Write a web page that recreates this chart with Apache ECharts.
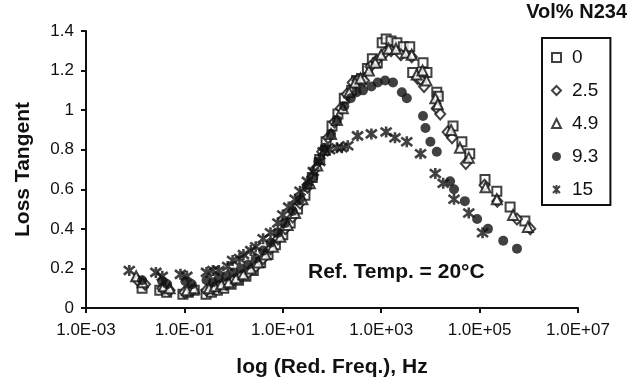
<!DOCTYPE html>
<html>
<head>
<meta charset="utf-8">
<script src="https://cdn.jsdelivr.net/npm/echarts@6/dist/echarts.min.js"></script>
<style>
  html, body { margin: 0; padding: 0; background: #fff; }
  #chart { width: 632px; height: 383px; }
</style>
</head>
<body>
<div id="chart"></div>
<script>
// Loss tangent master curves at 20 °C for N234 carbon-black loadings.
// x values are log10 of the reduced frequency (Hz).

const seriesNames = ['0', '2.5', '4.9', '9.3', '15'];
const xTickExponents = [-3, -1, 1, 3, 5, 7];

const logF_0 = [-1.86, -1.50, -1.36, -1.03, -0.92, -0.80, -0.56, -0.45, -0.33, -0.20, -0.05, 0.10, 0.25, 0.40, 0.55, 0.70, 0.85, 1.00, 1.15, 1.30, 1.45, 1.60, 1.75, 1.88, 2.00, 2.12, 2.25, 2.40, 2.50, 2.60, 2.72, 2.82, 2.92, 3.02, 3.10, 3.20, 3.32, 3.45, 3.58, 3.64, 3.85, 3.93, 4.13, 4.16, 4.46, 4.64, 4.80, 5.11, 5.35, 5.62, 5.92];
const tan_0  = [0.10, 0.09, 0.08, 0.07, 0.08, 0.09, 0.07, 0.08, 0.09, 0.10, 0.12, 0.14, 0.16, 0.19, 0.23, 0.27, 0.32, 0.37, 0.43, 0.50, 0.57, 0.66, 0.75, 0.84, 0.92, 0.98, 1.06, 1.10, 1.15, 1.16, 1.21, 1.26, 1.24, 1.34, 1.36, 1.35, 1.34, 1.32, 1.32, 1.19, 1.24, 1.19, 1.09, 1.07, 0.92, 0.84, 0.78, 0.65, 0.59, 0.51, 0.44];

const logF_25 = [-1.95, -1.80, -1.45, -1.30, -1.00, -0.85, -0.55, -0.42, -0.30, -0.15, 0.00, 0.15, 0.30, 0.45, 0.60, 0.75, 0.90, 1.05, 1.20, 1.35, 1.50, 1.65, 1.80, 1.92, 2.05, 2.18, 2.30, 2.42, 2.52, 2.65, 2.78, 2.90, 3.08, 3.20, 3.40, 3.62, 3.74, 3.82, 3.87, 4.13, 4.20, 4.35, 4.44, 4.72, 5.10, 5.36, 5.76, 6.03];
const tan_25  = [0.14, 0.12, 0.10, 0.09, 0.08, 0.09, 0.09, 0.10, 0.11, 0.12, 0.14, 0.16, 0.18, 0.21, 0.25, 0.30, 0.35, 0.40, 0.46, 0.53, 0.61, 0.70, 0.79, 0.86, 0.94, 1.01, 1.08, 1.14, 1.15, 1.15, 1.22, 1.25, 1.29, 1.30, 1.28, 1.27, 1.16, 1.15, 1.12, 1.01, 0.98, 0.89, 0.86, 0.73, 0.62, 0.54, 0.45, 0.40];

const logF_49 = [-1.98, -1.85, -1.42, -1.30, -0.95, -0.80, -0.50, -0.38, -0.25, -0.10, 0.05, 0.20, 0.35, 0.50, 0.65, 0.80, 0.95, 1.10, 1.25, 1.40, 1.55, 1.70, 1.85, 1.98, 2.10, 2.22, 2.35, 2.47, 2.58, 2.75, 2.88, 3.00, 3.15, 3.30, 3.50, 3.62, 3.72, 3.84, 3.92, 4.10, 4.15, 4.42, 4.60, 4.78, 5.12, 5.35, 5.68, 5.98];
const tan_49  = [0.16, 0.13, 0.11, 0.10, 0.09, 0.10, 0.10, 0.11, 0.12, 0.13, 0.15, 0.17, 0.20, 0.23, 0.27, 0.31, 0.36, 0.42, 0.48, 0.55, 0.63, 0.72, 0.80, 0.88, 0.95, 1.01, 1.09, 1.14, 1.16, 1.20, 1.24, 1.28, 1.31, 1.31, 1.29, 1.28, 1.18, 1.20, 1.15, 1.06, 1.03, 0.90, 0.81, 0.76, 0.61, 0.55, 0.47, 0.41];

const logF_93 = [-1.86, -1.45, -1.35, -0.98, -0.85, -0.55, -0.42, -0.30, -0.15, 0.00, 0.15, 0.30, 0.45, 0.60, 0.75, 0.90, 1.05, 1.20, 1.35, 1.50, 1.62, 1.72, 1.85, 1.98, 2.10, 2.25, 2.38, 2.50, 2.63, 2.80, 2.93, 3.08, 3.24, 3.42, 3.52, 3.85, 3.90, 4.00, 4.13, 4.40, 4.48, 4.70, 4.95, 5.17, 5.48, 5.76];
const tan_93  = [0.14, 0.135, 0.12, 0.135, 0.12, 0.14, 0.13, 0.15, 0.16, 0.18, 0.20, 0.22, 0.25, 0.29, 0.33, 0.38, 0.43, 0.49, 0.55, 0.62, 0.66, 0.74, 0.81, 0.88, 0.95, 1.02, 1.06, 1.09, 1.10, 1.12, 1.14, 1.15, 1.14, 1.09, 1.06, 0.97, 0.91, 0.84, 0.79, 0.64, 0.60, 0.54, 0.45, 0.40, 0.34, 0.30];

const logF_15 = [-2.12, -1.58, -1.45, -1.08, -0.95, -0.55, -0.42, -0.30, -0.12, -0.02, 0.12, 0.20, 0.35, 0.45, 0.60, 0.75, 0.90, 1.00, 1.12, 1.25, 1.35, 1.50, 1.62, 1.75, 1.82, 1.95, 2.10, 2.20, 2.32, 2.52, 2.80, 3.10, 3.28, 3.52, 3.80, 4.10, 4.26, 4.48, 4.78, 5.06];
const tan_15  = [0.19, 0.18, 0.16, 0.17, 0.16, 0.18, 0.19, 0.19, 0.21, 0.24, 0.25, 0.27, 0.29, 0.31, 0.35, 0.38, 0.43, 0.47, 0.51, 0.55, 0.59, 0.64, 0.69, 0.74, 0.79, 0.80, 0.81, 0.81, 0.82, 0.87, 0.88, 0.89, 0.86, 0.84, 0.78, 0.68, 0.63, 0.55, 0.48, 0.38];

const pairs = (xs, ys) => xs.map((x, i) => [x, ys[i]]);

const FONT = "'Liberation Sans', Arial, sans-serif";
const INK = '#111';

const hollow = { color: '#fff', borderColor: INK, borderWidth: 2 };
const STAR = 'path://M0,0L10,10M10,0L0,10M5,-1.5L5,11.5';

const markerDefs = [
  { data: pairs(logF_0, tan_0), symbol: 'rect', symbolSize: 9, itemStyle: hollow },
  { data: pairs(logF_25, tan_25), symbol: 'diamond', symbolSize: [10, 11], itemStyle: hollow },
  { data: pairs(logF_49, tan_49), symbol: 'triangle', symbolSize: 10, itemStyle: hollow },
  { data: pairs(logF_93, tan_93), symbol: 'circle', symbolSize: 10, itemStyle: { color: INK } },
  { data: pairs(logF_15, tan_15), symbol: STAR, symbolSize: 11, itemStyle: { color: INK, borderColor: INK, borderWidth: 2.6 } }
];

const expLabel = (v) => {
  const e = Math.round(v);
  const s = e < 0 ? '-' : '+';
  const a = Math.abs(e);
  return '1.0E' + s + (a < 10 ? '0' + a : a);
};

const chart = echarts.init(document.getElementById('chart'), null, { renderer: 'canvas' });

chart.setOption({
  backgroundColor: '#fff',
  animation: false,
  textStyle: { fontFamily: FONT, color: INK },
  title: {
    text: 'Vol% N234',
    right: 5,
    top: 2,
    padding: 0,
    textStyle: { fontFamily: FONT, fontSize: 20, fontWeight: 'bold', color: INK }
  },
  legend: {
    orient: 'vertical',
    left: 542,
    top: 38,
    padding: [10, 12, 6, 9],
    itemGap: 14,
    itemWidth: 9,
    itemHeight: 9,
    borderColor: INK,
    borderWidth: 2,
    borderRadius: 0,
    backgroundColor: '#fff',
    data: seriesNames,
    formatter: (name) => '{t|' + name + '}',
    textStyle: {
      fontFamily: FONT,
      fontSize: 19,
      color: INK,
      rich: { t: { fontFamily: FONT, fontSize: 19, color: INK, padding: [0, 0, 0, 6], lineHeight: 20 } }
    }
  },
  grid: { left: 86, right: 54, top: 31, bottom: 73, containLabel: false },
  xAxis: {
    type: 'value',
    min: xTickExponents[0],
    max: xTickExponents[xTickExponents.length - 1],
    interval: 2,
    name: 'log (Red. Freq.), Hz',
    nameLocation: 'middle',
    nameGap: 49,
    nameTextStyle: { fontFamily: FONT, fontSize: 21, fontWeight: 'bold', color: INK },
    axisLine: { onZero: false, lineStyle: { color: INK, width: 2 } },
    axisTick: { length: 5, lineStyle: { color: INK, width: 2 } },
    axisLabel: { margin: 14, fontFamily: FONT, fontSize: 17, color: INK, formatter: expLabel },
    splitLine: { show: false }
  },
  yAxis: {
    type: 'value',
    min: 0,
    max: 1.4,
    interval: 0.2,
    name: 'Loss Tangent',
    nameLocation: 'middle',
    nameGap: 52,
    nameRotate: 90,
    nameTextStyle: { fontFamily: FONT, fontSize: 21, fontWeight: 'bold', color: INK },
    axisLine: { onZero: false, lineStyle: { color: INK, width: 2 } },
    axisTick: { length: 5, lineStyle: { color: INK, width: 2 } },
    axisLabel: { margin: 12, fontFamily: FONT, fontSize: 17, color: INK },
    splitLine: { show: false }
  },
  graphic: [{
    type: 'text',
    left: 308,
    top: 262,
    style: { text: 'Ref. Temp. = 20°C', font: 'bold 21px ' + FONT, fill: INK }
  }],
  series: markerDefs.map((d, i) => ({
    name: seriesNames[i],
    type: 'scatter',
    data: d.data,
    symbol: d.symbol,
    symbolSize: d.symbolSize,
    itemStyle: d.itemStyle,
    z: 2 + i,
    emphasis: { disabled: true }
  }))
});
</script>
</body>
</html>
